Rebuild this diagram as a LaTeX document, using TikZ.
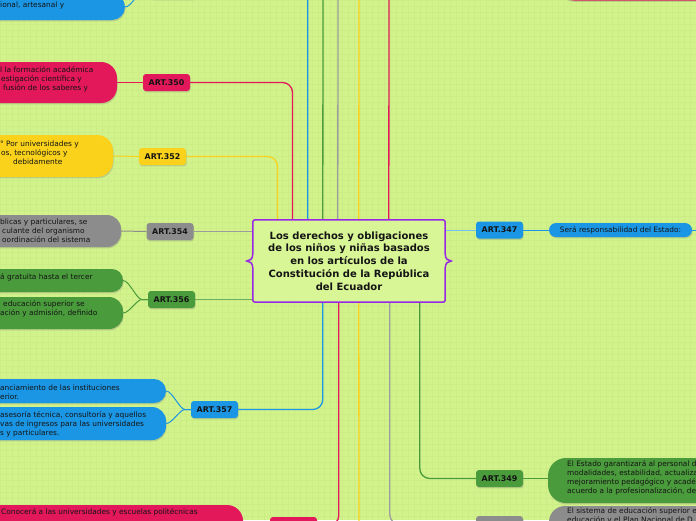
\documentclass[tikz,border=0pt]{standalone}
\usepackage{fontspec}
\setmainfont{DejaVu Sans}
\usetikzlibrary{calc,shadows}
\definecolor{bg}{RGB}{210,242,139}
\definecolor{gridc}{RGB}{204,237,134}
\definecolor{pinkc}{RGB}{226,24,91}
\definecolor{yellowc}{RGB}{250,210,28}
\definecolor{grayc}{RGB}{140,140,140}
\definecolor{greenc}{RGB}{74,155,60}
\definecolor{bluec}{RGB}{27,150,228}
\definecolor{purplec}{RGB}{153,40,230}
\definecolor{cfill}{RGB}{216,246,150}
\definecolor{ink}{RGB}{20,20,20}
\pgfdeclarelayer{bgl}
\pgfdeclarelayer{lines}
\pgfsetlayers{bgl,lines,main}
\tikzset{
  shad/.style={drop shadow={opacity=0.3, shadow xshift=0.6pt, shadow yshift=-1.4pt}},
  artbox/.style={rectangle, rounded corners=3pt, minimum width=47pt, minimum height=17pt, inner sep=0pt,
    font=\fontsize{7.9}{9}\selectfont\bfseries, text=ink, shad},
  pillbox/.style={rectangle, inner sep=0pt, shad},
  txt/.style={inner sep=0pt, align=left, font=\fontsize{7.4}{9}\selectfont, text=ink, anchor=west},
  conn/.style={line width=1.3pt, rounded corners=10pt},
  brl/.style={line width=1pt},
}
\begin{document}
\begin{tikzpicture}[x=1pt,y=-1pt]
\useasboundingbox (0,0) rectangle (696,520);
\begin{pgfonlayer}{bgl}
  \fill[bg] (0,0) rectangle (696,520);
  \foreach \i in {0,6,...,696} \draw[gridc, line width=0.3pt] (\i,0) -- (\i,520);
  \foreach \j in {0,6,...,520} \draw[gridc, line width=0.3pt] (0,\j) -- (696,\j);
\end{pgfonlayer}

% central node
\node[fill=cfill, rounded corners=5pt, minimum width=192pt, minimum height=82pt, inner sep=0pt,
  align=center, text=ink, font=\fontsize{10}{12.8}\selectfont\bfseries] (c) at (349,261)
  {Los derechos y obligaciones\\de los niños y niñas basados\\en los artículos de la\\Constitución de la República\\del Ecuador};
\draw[purplec, line width=1.5pt]
  ([xshift=5pt]c.north west) -- ([xshift=-5pt]c.north east) .. controls (c.north east) .. ([yshift=-5pt]c.north east)
  -- ([yshift=7pt]c.east) .. controls ([yshift=2pt]c.east) and ([xshift=3pt]c.east) .. ([xshift=6pt]c.east)
  .. controls ([xshift=3pt]c.east) and ([yshift=-2pt]c.east) .. ([yshift=-7pt]c.east)
  -- ([yshift=5pt]c.south east) .. controls (c.south east) .. ([xshift=-5pt]c.south east)
  -- ([xshift=5pt]c.south west) .. controls (c.south west) .. ([yshift=5pt]c.south west)
  -- ([yshift=-7pt]c.west) .. controls ([yshift=-2pt]c.west) and ([xshift=-3pt]c.west) .. ([xshift=-6pt]c.west)
  .. controls ([xshift=-3pt]c.west) and ([yshift=2pt]c.west) .. ([yshift=7pt]c.west)
  -- ([yshift=-5pt]c.north west) .. controls (c.north west) .. ([xshift=5pt]c.north west) -- cycle;

% ART boxes
\node[artbox, fill=bluec, minimum width=45pt, minimum height=16pt] (atop) at (173,-9) {};
\node[artbox, fill=pinkc] (a350) at (166.5,82.5) {ART.350};
\node[artbox, fill=yellowc] (a352) at (162.5,156.5) {ART.352};
\node[artbox, fill=grayc] (a354) at (170,231.5) {ART.354};
\node[artbox, fill=greenc] (a356) at (171.5,299.5) {ART.356};
\node[artbox, fill=bluec] (a357) at (214.5,409.5) {ART.357};
\node[artbox, fill=bluec] (a347) at (499.5,230) {ART.347};
\node[artbox, fill=greenc] (a349) at (499.5,478.5) {ART.349};
\node[artbox, fill=pinkc] (abotp) at (293.5,525.5) {};
\node[artbox, fill=grayc] (abotg) at (499.5,524.5) {};

% text pills
\node[pillbox, fill=bluec, rounded corners=13pt, minimum width=225pt, minimum height=26pt] (tBlueTop) at (12.5,7) {};
\node[pillbox, fill=pinkc, rounded corners=16pt, minimum width=197pt, minimum height=41pt] (tPink) at (18.5,82.5) {};
\node[pillbox, fill=yellowc, rounded corners=16pt, minimum width=193pt, minimum height=42pt] (tYellow) at (16.5,156) {};
\node[pillbox, fill=grayc, rounded corners=14pt, minimum width=201pt, minimum height=32pt] (tGray) at (20.5,231) {};
\node[pillbox, fill=greenc, rounded corners=11pt, minimum width=203pt, minimum height=23pt] (tGreen1) at (21.5,280.5) {};
\node[pillbox, fill=greenc, rounded corners=14pt, minimum width=203pt, minimum height=32pt] (tGreen2) at (21.5,313) {};
\node[pillbox, fill=bluec, rounded corners=12pt, minimum width=246pt, minimum height=24pt] (tBlue1) at (43,391) {};
\node[pillbox, fill=bluec, rounded corners=14pt, minimum width=246pt, minimum height=33pt] (tBlue2) at (43,423.5) {};
\node[pillbox, fill=pinkc, rounded corners=16pt, minimum width=323pt, minimum height=41pt] (tPinkBot) at (81.5,525.5) {};
\node[pillbox, fill=bluec, rounded corners=7pt, minimum width=143pt, minimum height=14pt,
  font=\fontsize{7.4}{9}\selectfont, text=ink] (tSera) at (620.5,230) {Será responsabilidad del Estado:};
\node[pillbox, fill=greenc, rounded corners=18pt, minimum width=302pt, minimum height=45pt] (tGreenR) at (699,480.5) {};
\node[pillbox, fill=grayc, rounded corners=16pt, minimum width=301pt, minimum height=37pt] (tGrayR) at (699.5,524.5) {};
\node[pillbox, fill=pinkc, rounded corners=16pt, minimum width=292pt, minimum height=40pt] (tPinkTR) at (704,-19.5) {};

% texts
\node[txt] (xBT) at (0,5) {ional, artesanal y};
\node[txt] (xP) at (0,79) {l la formación académica\\\hspace*{1pt}estigación científica y\\\hspace*{3pt}fusión de los saberes y};
\node[txt] (xY) at (0,153) {° Por universidades y\\\hspace*{1pt}os, tecnológicos y\\\hspace*{13pt}debidamente};
\node[txt] (xG) at (0,231) {blicas y particulares, se\\\hspace*{2pt}culante del organismo\\\hspace*{2pt}oordinación del sistema};
\node[txt] (xG1) at (0,277) {á gratuita hasta el tercer};
\node[txt] (xG2) at (0,308.5) {\hspace*{3pt}educación superior se\\ación y admisión, definido};
\node[txt] (xB1) at (0,392) {anciamiento de las instituciones\\erior.};
\node[txt] (xB2) at (0,424.5) {asesoría técnica, consultoría y aquellos\\vas de ingresos para las universidades\\s y particulares.};
\node[txt] (xPB) at (1,512) {Conocerá a las universidades y escuelas politécnicas};
\node[txt] (xGR) at (567,477.5) {El Estado garantizará al personal d\\modalidades, estabilidad, actualiza\\mejoramiento pedagógico y acadé\\acuerdo a la profesionalización, de};
\node[txt] (xGyR) at (567,515.5) {El sistema de educación superior e\\educación y el Plan Nacional de D};

% free ends
\coordinate (upG) at (323,-20);
\coordinate (upGy) at (338,-20);
\coordinate (upY) at (359,-20);
\coordinate (upR) at (389,-20);
\coordinate (dnY) at (359,540);
\coordinate (rEnd) at (710,230);

\begin{pgfonlayer}{lines}
  % top side of centre
  \draw[conn, pinkc] ($(c.north west)+(39.7,0)$) |- (a350.east);
  \draw[conn, yellowc] ($(c.north west)+(24.7,0)$) |- (a352.east);
  \draw[conn, bluec] ($(c.north west)+(55,0)$) |- (atop.east);
  \draw[conn, greenc] ($(c.north west)+(70,0)$) -- (upG);
  \draw[conn, grayc!85!white] ($(c.north west)+(85,0)$) -- (upGy);
  \draw[conn, yellowc] ($(c.north west)+(106,0)$) -- (upY);
  \draw[conn, pinkc] ($(c.north west)+(136,0)$) -- (upR);
  % bottom side of centre
  \draw[conn, bluec] ($(c.south west)+(70,0)$) |- (a357.east);
  \draw[conn, pinkc] ($(c.south west)+(86,0)$) |- (abotp.east);
  \draw[conn, yellowc] ($(c.south west)+(106,0)$) -- (dnY);
  \draw[conn, grayc!85!white] ($(c.south west)+(137,0)$) |- (abotg.west);
  \draw[conn, greenc] ($(c.south west)+(167,0)$) |- (a349.west);
  % left / right of centre
  \draw[brl, grayc!85!white] (a354.east) -- (c.west |- a354.east);
  \draw[brl, greenc!80!white] (a356.east) -- (c.west |- a356.east);
  \draw[brl, bluec!60!white] (c.east |- a347.west) -- (a347.west);
  % ART to text
  \draw[brl, bluec] (a347.east) -- (tSera.west);
  \draw[brl, bluec] (tSera.east) -- (rEnd);
  \draw[brl, greenc] (a349.east) -- (a349.east -| tGreenR.west);
  \draw[brl, pinkc] (a350.west) -- (tPink.east);
  \draw[brl, yellowc] (a352.west) -- (tYellow.east);
  \draw[brl, grayc] (a354.west) -- (tGray.east);
  \draw[brl, greenc] (a356.west) -- ++(-6,0) .. controls +(-5,0) and +(6,0) .. (tGreen1.east);
  \draw[brl, greenc] (a356.west) -- ++(-6,0) .. controls +(-5,0) and +(6,0) .. (tGreen2.east);
  \draw[brl, bluec] (a357.west) -- ++(-6,0) .. controls +(-5,0) and +(6,0) .. (tBlue1.east);
  \draw[brl, bluec] (a357.west) -- ++(-6,0) .. controls +(-5,0) and +(6,0) .. (tBlue2.east);
  \draw[brl, bluec] (atop.west) -- ++(-6,0) .. controls +(-6,0) and +(6,0) .. (tBlueTop.east);
  \draw[brl, pinkc] (abotp.west) -- (tPinkBot.east);
  \draw[brl, grayc] (abotg.east) -- (tGrayR.west);
\end{pgfonlayer}
\end{tikzpicture}
\end{document}
